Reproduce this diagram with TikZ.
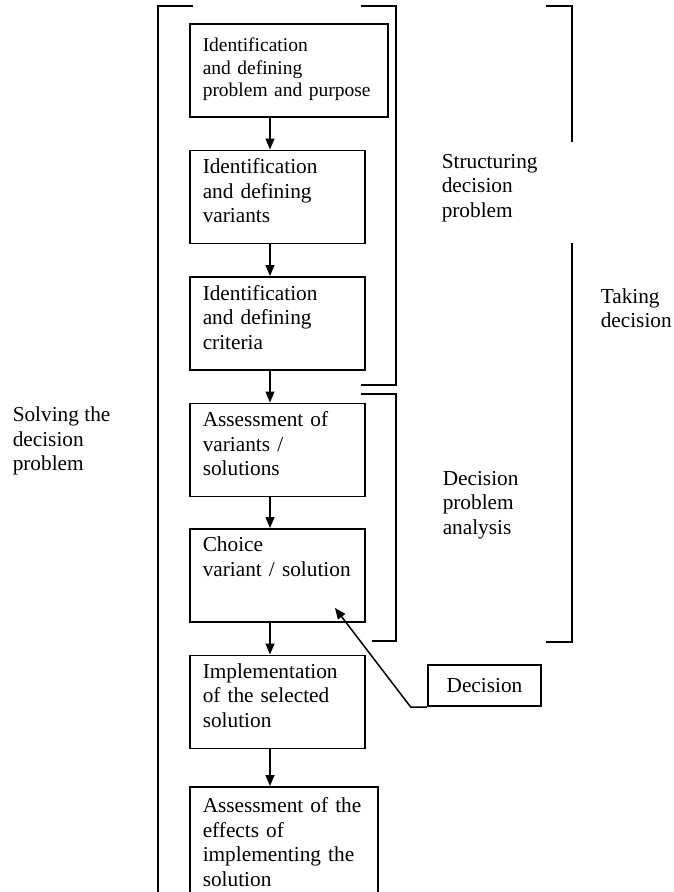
\documentclass[tikz,border=0pt]{standalone}
\usepackage{fontspec}
\setmainfont{Liberation Serif}
\usetikzlibrary{positioning,arrows.meta}

\begin{document}
\begin{tikzpicture}[x=1pt, y=-1pt, line width=1.5pt, ->,
      >={Triangle[length=11pt,width=9pt]},
      node distance=32pt,
      every node/.append style={font=\fontsize{21.3}{24.5}\selectfont},
      stepbox/.style={draw, anchor=north west, align=left, text width=149pt,
        inner xsep=13pt, minimum height=93pt, execute at end node={\\[#1]\mbox{}}},
      stepbox/.default=-12pt,
      stepunder/.style 2 args={below=#1 of #2.south west, anchor=north west},
      side/.style={anchor=west, align=left, inner sep=0pt}]
    \clip (0,0) rectangle (674,892);
    \node (b1) [stepbox=-16.5pt, text width=172pt, font=\fontsize{19.5}{22.5}\selectfont] at (189,23)
      {Identification\\and defining\\problem and purpose};
    \node (b2) [stepbox, stepunder={32pt}{b1}] {Identification\\and defining\\variants};
    \node (b3) [stepbox, stepunder={32pt}{b2}] {Identification\\and defining\\criteria};
    \node (b4) [stepbox, stepunder={32pt}{b3}] {Assessment of\\variants /\\solutions};
    \node (b5) [stepbox, stepunder={31pt}{b4}] {Choice\\variant / solution\\\mbox{}};
    \node (b6) [stepbox, stepunder={32pt}{b5}] {Implementation\\of the selected\\solution};
    \node (b7) [stepbox, text width=162pt, minimum height=123pt, stepunder={37pt}{b6}]
      {Assessment of the\\effects of\\implementing the\\solution};
    \coordinate (ax) at (270,0);
    \foreach \a/\b in {b1/b2,b2/b3,b3/b4,b4/b5,b5/b6,b6/b7}
      \draw (\a.south -| ax) -- (\b.north -| ax);

    \node (dec) [draw, line width=2.4pt, minimum width=113pt, minimum height=41pt] at (484.5,685.5) {Decision};
    \coordinate (tip) at (335,608);
    \draw (dec.south west) -- ++(-16,0) -- (tip);

    \node (solve) [side] at (12,441) {Solving the\\decision\\problem};
    \node (struct) [side] at (441,188) {Structuring\\decision\\problem};
    \node (take) [side] at (600,308) {Taking\\decision};
    \node (anal) [side] at (442,505) {Decision\\problem\\analysis};

    \draw[-] (193,6) -- (158,6) -- (158,900);
    \draw[-] (361,6) -- (396,6) -- (396,385) -- (361,385);
    \draw[-] (361,394) -- (396,394) -- (396,641) -- (372,641);
    \draw[-] (546,6) -- (572,6) -- (572,142);
    \draw[-] (572,243) -- (572,642) -- (546,642);
  \end{tikzpicture}
\end{document}
